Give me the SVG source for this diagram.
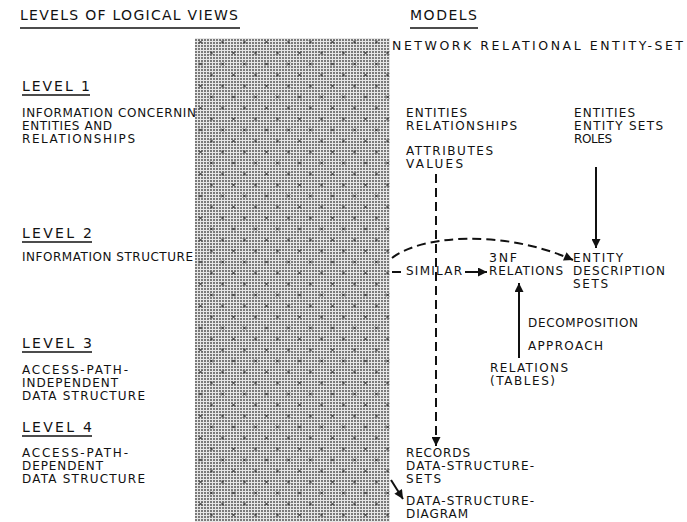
<svg xmlns="http://www.w3.org/2000/svg" width="687" height="522" viewBox="0 0 687 522">
<style>
text { font-family: "DejaVu Sans", "Liberation Sans", sans-serif; fill: #111; }
.h { font-size: 14px; }
.t { font-size: 12px; }
.n { font-size: 12.5px; }
.ul { stroke: #111; stroke-width: 1.5; }
.c { stroke: #111; stroke-width: 2; fill: none; }
.d { stroke-dasharray: 9 5; }
</style>
<defs>
<marker id="ah" viewBox="0 0 10 10" refX="10" refY="5" markerWidth="11" markerHeight="9" markerUnits="userSpaceOnUse" orient="auto">
<path d="M0,0 L10,5 L0,10 z" fill="#111"/>
</marker>
<pattern id="grid" width="3" height="3" patternUnits="userSpaceOnUse">
<rect width="3" height="3" fill="#e6e6e6"/>
<rect width="2" height="2" fill="#7a7a7a"/>
</pattern>
<pattern id="xs" width="22" height="22" patternUnits="userSpaceOnUse">
<path d="M1,18.5 l3,3 M4,18.5 l-3,3 M12,7.5 l3,3 M15,7.5 l-3,3" stroke="#222" stroke-width="0.9" fill="none"/>
</pattern>
</defs>
<rect width="687" height="522" fill="#fff"/>

<g id="header">
<text class="h" x="20" y="20" textLength="218" lengthAdjust="spacing">LEVELS OF LOGICAL VIEWS</text>
<line class="ul" x1="20" y1="28" x2="240" y2="28"/>
<text class="h" x="410" y="20" textLength="67" lengthAdjust="spacing">MODELS</text>
<line class="ul" x1="410" y1="28" x2="478" y2="28"/>
<text class="n" x="392" y="50" textLength="291" lengthAdjust="spacing">NETWORK RELATIONAL ENTITY-SET</text>
</g>

<g id="level1">
<text class="h" x="22" y="91" textLength="68" lengthAdjust="spacing">LEVEL 1</text>
<line class="ul" x1="22" y1="95" x2="90" y2="95"/>
<text class="t" x="22" y="117" textLength="184" lengthAdjust="spacing">INFORMATION CONCERNING</text>
<text class="t" x="22" y="130" textLength="90" lengthAdjust="spacing">ENTITIES AND</text>
<text class="t" x="22" y="143" textLength="113" lengthAdjust="spacing">RELATIONSHIPS</text>
</g>

<g id="level2">
<text class="h" x="22" y="238" textLength="70" lengthAdjust="spacing">LEVEL 2</text>
<line class="ul" x1="22" y1="242" x2="92" y2="242"/>
<text class="t" x="22" y="261" textLength="171" lengthAdjust="spacing">INFORMATION STRUCTURE</text>
</g>

<g id="level3">
<text class="h" x="22" y="348" textLength="70" lengthAdjust="spacing">LEVEL 3</text>
<line class="ul" x1="22" y1="352" x2="92" y2="352"/>
<text class="t" x="22" y="374" textLength="106" lengthAdjust="spacing">ACCESS-PATH-</text>
<text class="t" x="22" y="387" textLength="96" lengthAdjust="spacing">INDEPENDENT</text>
<text class="t" x="22" y="400" textLength="123" lengthAdjust="spacing">DATA STRUCTURE</text>
</g>

<g id="level4">
<text class="h" x="22" y="432" textLength="70" lengthAdjust="spacing">LEVEL 4</text>
<line class="ul" x1="22" y1="436" x2="92" y2="436"/>
<text class="t" x="22" y="457" textLength="106" lengthAdjust="spacing">ACCESS-PATH-</text>
<text class="t" x="22" y="470" textLength="81" lengthAdjust="spacing">DEPENDENT</text>
<text class="t" x="22" y="483" textLength="123" lengthAdjust="spacing">DATA STRUCTURE</text>
</g>

<g id="shade">
<rect x="195" y="38" width="195" height="484" fill="url(#grid)"/>
<rect x="195" y="38" width="195" height="484" fill="url(#xs)"/>
</g>

<g id="network-entities">
<text class="t" x="406" y="117" textLength="61" lengthAdjust="spacing">ENTITIES</text>
<text class="t" x="406" y="130" textLength="111" lengthAdjust="spacing">RELATIONSHIPS</text>
<text class="t" x="406" y="155" textLength="87" lengthAdjust="spacing">ATTRIBUTES</text>
<text class="t" x="406" y="168" textLength="57" lengthAdjust="spacing">VALUES</text>
</g>

<g id="entityset-entities">
<text class="t" x="574" y="117" textLength="61" lengthAdjust="spacing">ENTITIES</text>
<text class="t" x="574" y="130" textLength="89" lengthAdjust="spacing">ENTITY SETS</text>
<text class="t" x="574" y="143" textLength="38" lengthAdjust="spacing">ROLES</text>
</g>

<g id="similar">
<text class="t" x="406" y="275" textLength="56" lengthAdjust="spacing">SIMILAR</text>
</g>

<g id="relations-3nf">
<text class="n" x="489" y="262" textLength="28" lengthAdjust="spacing">3NF</text>
<text class="t" x="489" y="275" textLength="74" lengthAdjust="spacing">RELATIONS</text>
</g>

<g id="entity-description-sets">
<text class="t" x="573" y="262" textLength="50" lengthAdjust="spacing">ENTITY</text>
<text class="t" x="573" y="275" textLength="92" lengthAdjust="spacing">DESCRIPTION</text>
<text class="t" x="573" y="288" textLength="35" lengthAdjust="spacing">SETS</text>
</g>

<g id="decomposition">
<text class="t" x="528" y="327" textLength="110" lengthAdjust="spacing">DECOMPOSITION</text>
<text class="t" x="528" y="350" textLength="75" lengthAdjust="spacing">APPROACH</text>
</g>

<g id="relations-tables">
<text class="t" x="490" y="372" textLength="78" lengthAdjust="spacing">RELATIONS</text>
<text class="t" x="490" y="385" textLength="65" lengthAdjust="spacing">(TABLES)</text>
</g>

<g id="records">
<text class="t" x="406" y="457" textLength="64" lengthAdjust="spacing">RECORDS</text>
<text class="t" x="406" y="470" textLength="128" lengthAdjust="spacing">DATA-STRUCTURE-</text>
<text class="t" x="406" y="483" textLength="35" lengthAdjust="spacing">SETS</text>
</g>

<g id="data-structure-diagram">
<text class="t" x="406" y="505" textLength="128" lengthAdjust="spacing">DATA-STRUCTURE-</text>
<text class="t" x="406" y="518" textLength="62" lengthAdjust="spacing">DIAGRAM</text>
</g>

<g id="connectors">
<line class="c" x1="596" y1="167" x2="596" y2="248" marker-end="url(#ah)"/>
<line class="c d" x1="436" y1="174" x2="436" y2="446" marker-end="url(#ah)"/>
<path class="c d" d="M392,258 C420,236 500,228 573,260" marker-end="url(#ah)"/>
<line class="c" x1="392" y1="272" x2="401" y2="272"/>
<line class="c" x1="465" y1="272" x2="487" y2="272" marker-end="url(#ah)"/>
<line class="c" x1="519" y1="358" x2="519" y2="283" marker-end="url(#ah)"/>
<line class="c" x1="391" y1="480" x2="403" y2="499" marker-end="url(#ah)"/>
</g>
</svg>
